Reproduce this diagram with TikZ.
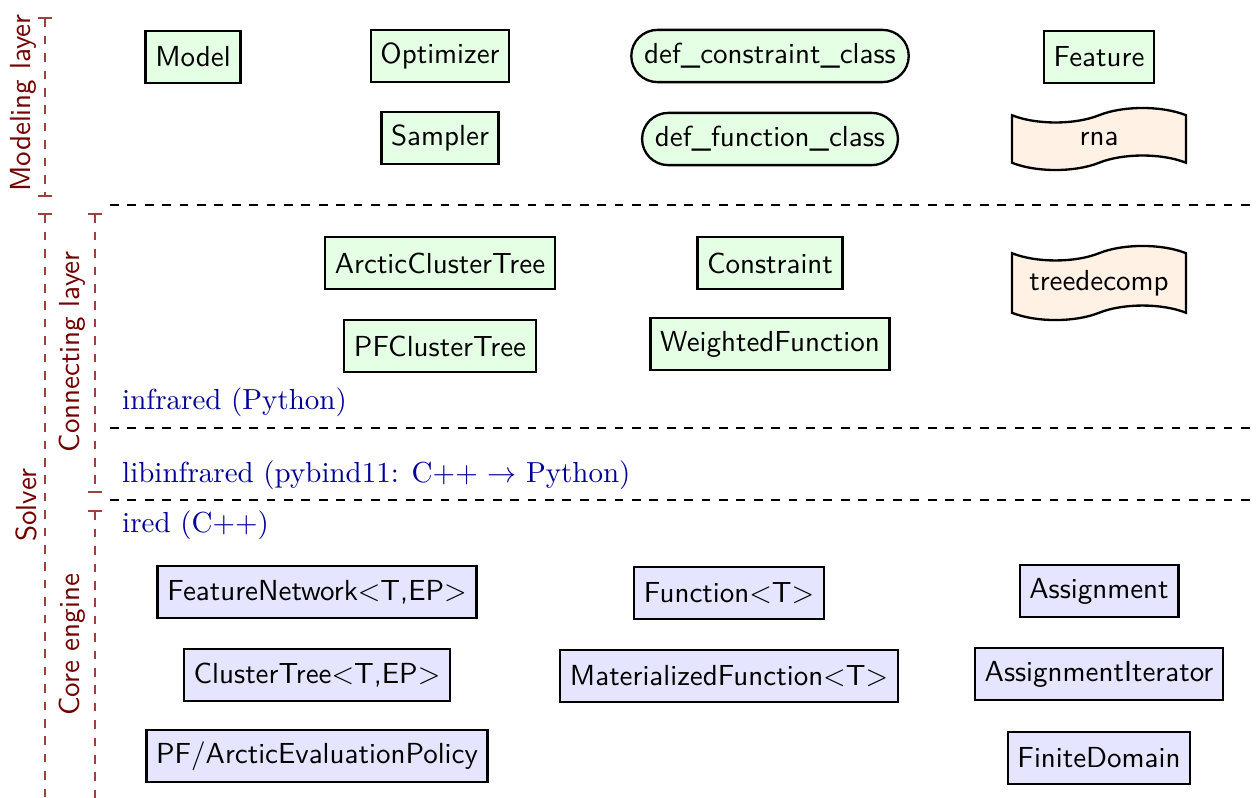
\documentclass[tikz,border=0pt]{standalone}
\usetikzlibrary{shapes.symbols,shapes.misc,arrows.meta}
\begin{document}
\begin{tikzpicture}[x=0.3448pt,y=-0.3448pt,
  box/.style={draw, thick, font=\sffamily, minimum height=18pt},
  gbox/.style={box, fill=green!10},
  bbox/.style={box, fill=blue!10},
  rbox/.style={gbox, rounded rectangle},
  tbox/.style={tape, draw, thick, fill=orange!10, font=\sffamily, minimum width=60pt},
  sepline/.style={thick, dashed},
  brk/.style={dashed, semithick, red!50!black!75},
  brkboth/.style={brk, {Bar[width=5pt]}-{Bar[width=5pt]}},
  brkstart/.style={brk, {Bar[width=5pt]}-},
  lyr/.style={text=red!45!black, font=\sffamily, rotate=90},
  lang/.style={text=blue!60!black, anchor=west}]
\useasboundingbox (0,0) rectangle (1256,797);

% left brackets
\coordinate (m1) at (45,17);  \coordinate (m2) at (45,197);
\coordinate (s1) at (45,213); \coordinate (s2) at (45,800);
\coordinate (c1) at (95,213); \coordinate (c2) at (95,493);
\coordinate (e1) at (95,510); \coordinate (e2) at (95,800);
\draw[brkboth] (m1) -- (m2);
\draw[brkstart] (s1) -- (s2);
\draw[brkboth] (c1) -- (c2);
\draw[brkstart] (e1) -- (e2);
\node[lyr] (lmodel) at (23,103) {Modeling layer};
\node[lyr] (lsolver) at (26,505) {Solver};
\node[lyr] (lconn) at (72,352) {Connecting layer};
\node[lyr] (lcore) at (72,645) {Core engine};

% separators
\coordinate (h1a) at (110,205); \coordinate (h1b) at (1256,205);
\coordinate (h2a) at (110,428); \coordinate (h2b) at (1256,428);
\coordinate (h3a) at (110,500); \coordinate (h3b) at (1256,500);
\draw[sepline] (h1a) -- (h1b);
\draw[sepline] (h2a) -- (h2b);
\draw[sepline] (h3a) -- (h3b);

% language labels
\node[lang] (py) at (112,402) {infrared (Python)};
\node[lang] (pb) at (112,475) {libinfrared (pybind11: C++ $\rightarrow$ Python)};
\node[lang] (cpp) at (112,525) {ired (C++)};

% modeling layer
\node[gbox] (model) at (193,57) {Model};
\node[gbox] (opt) at (440,56) {Optimizer};
\node[gbox] (samp) at (440,138) {Sampler};
\node[rbox] (dcc) at (770,56) {def\_constraint\_class};
\node[rbox] (dfc) at (770,139) {def\_function\_class};
\node[gbox] (feat) at (1099,57) {Feature};
\node[tbox] (rna) at (1099,139) {rna};

% connecting layer
\node[gbox] (act) at (440,263) {ArcticClusterTree};
\node[gbox] (cons) at (770,263) {Constraint};
\node[tbox] (td) at (1099,283) {treedecomp};
\node[gbox] (pfct) at (440,346) {PFClusterTree};
\node[gbox] (wf) at (770,344) {WeightedFunction};

% core engine
\node[bbox] (fn) at (317,592) {FeatureNetwork$<$T,EP$>$};
\node[bbox] (fun) at (729,593) {Function$<$T$>$};
\node[bbox] (asg) at (1099,591) {Assignment};
\node[bbox] (ct) at (317,675) {ClusterTree$<$T,EP$>$};
\node[bbox] (mf) at (729,676) {MaterializedFunction$<$T$>$};
\node[bbox] (ai) at (1099,674) {AssignmentIterator};
\node[bbox] (pol) at (317,756) {PF/ArcticEvaluationPolicy};
\node[bbox] (fd) at (1099,758) {FiniteDomain};
\end{tikzpicture}
\end{document}
